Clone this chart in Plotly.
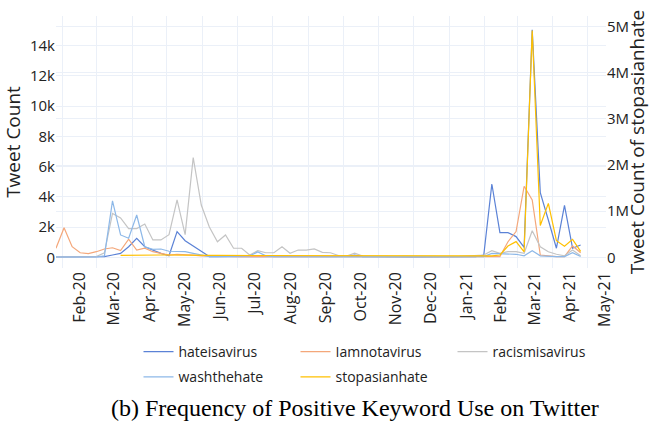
import plotly.graph_objects as go
import pandas as pd

weeks = pd.date_range("2020-01-26", periods=66, freq="7D")

hateisavirus = [20, 20, 20, 20, 20, 30, 50, 150, 260, 700,
                1260, 700, 480, 260, 100, 1700, 1100, 750, 400, 50,
                40, 40, 30, 40, 50, 60, 40, 30, 40, 40,
                30, 30, 40, 30, 30, 40, 60, 150, 50, 40,
                30, 30, 30, 30, 30, 30, 30, 30, 30, 30,
                30, 40, 50,
                150, 4850, 1630, 1630, 1370, 660, 15050, 4280, 2470, 600, 3440, 600, 810]

iamnotavirus = [600, 1950, 700, 300, 250, 370, 550, 630, 440, 1200,
                480, 600, 370, 260, 150, 200, 200, 150, 100, 80,
                60, 50, 60, 50, 40, 50, 60, 50, 40, 50,
                50, 40, 40, 50, 60, 50, 40, 40, 40, 40,
                40, 40, 40, 40, 40, 40, 40, 40, 40, 40,
                40, 40, 50,
                50, 50, 50, 1030, 1700, 4700, 3800, 150, 100, 50, 50, 750, 300]

racismisavirus = [20, 20, 30, 30, 50, 50, 300, 2900, 2600, 1900,
                  1900, 2200, 1150, 1150, 1500, 3800, 1500, 6600, 3460, 2000,
                  1030, 1480, 600, 600, 150, 440, 300, 300, 700, 270,
                  480, 480, 550, 330, 300, 120, 80, 280, 80,
                  60, 50, 50, 50, 60, 50, 50, 50, 60, 50, 50, 60, 80, 100,
                  150, 440, 260, 370, 370, 270, 1760, 700, 370, 200, 100, 480, 100]

washthehate = [20, 20, 20, 20, 20, 20, 100, 3730, 1480, 1260,
               2800, 700, 530, 550, 400, 400, 370, 260, 150, 50,
               50, 50, 50, 50, 100, 350, 100, 50, 40, 40,
               40, 40, 40, 30, 30, 30, 30, 30, 30, 30,
               30, 30, 30, 30, 30, 30, 30, 30, 30, 30,
               30, 30, 40,
               50, 260, 250, 200, 200, 100, 440, 100, 50, 50, 50, 300, 50]

stopasianhate = [None, None, None, None, None, None, None, None,
                 40000, 45000, 45000, 50000, 50000, 50000, 50000, 45000, 45000, 45000,
                 40000, 40000, 40000, 40000, 40000, 40000, 40000, 40000, 40000, 40000,
                 40000, 40000, 40000, 40000, 40000, 40000, 40000, 40000, 40000, 40000,
                 40000, 40000, 40000, 40000, 40000, 40000, 40000, 40000, 40000, 40000,
                 40000, 40000, 40000, 35000, 35000,
                 30000, 30000, 50000, 245000, 340000, 120000, 4920000, 690000,
                 1170000, 360000, 240000, 390000, 130000]

series = [
    ("hateisavirus", hateisavirus, "#5B82D6", "y", "legend"),
    ("Iamnotavirus", iamnotavirus, "#F4A77A", "y", "legend"),
    ("racismisavirus", racismisavirus, "#C4C4C4", "y", "legend"),
    ("washthehate", washthehate, "#8DB8E8", "y", "legend2"),
    ("stopasianhate", stopasianhate, "#FFC000", "y2", "legend2"),
]

fig = go.Figure()
for name, vals, color, yax, leg in series:
    fig.add_trace(go.Scatter(x=weeks, y=vals, name=name, mode="lines",
                             line=dict(color=color, width=1.2),
                             yaxis=yax, legend=leg, connectgaps=False))

grid = "#EBF0F8"
xtickfont = dict(family="Open Sans", size=16, color="#222222")
ytickfont = dict(family="Open Sans", size=15, color="#222222")
titlefont = dict(family="Open Sans", size=19, color="#222222")
legfont = dict(family="Open Sans", size=14, color="#222222")

fig.update_layout(
    template="plotly_white",
    width=650, height=426,
    margin=dict(l=56, r=44, t=16, b=158, autoexpand=False),
    plot_bgcolor="white", paper_bgcolor="white",
    showlegend=True,
    xaxis=dict(type="date", range=["2020-01-26", "2021-05-17"],
               dtick="M1", tick0="2020-01-01", tickformat="%b-%y",
               ticklabelmode="period", tickangle=-90, tickfont=xtickfont,
               showgrid=True, gridcolor=grid, zeroline=False, showline=False,
               automargin=False),
    yaxis=dict(range=[-708, 15965], dtick=2000, tickformat="~s",
               tickfont=ytickfont, showgrid=True, gridcolor=grid,
               zeroline=False, showline=False, automargin=False,
               title=dict(text="Tweet Count", font=titlefont, standoff=12)),
    yaxis2=dict(overlaying="y", side="right", range=[-232000, 5234000],
                dtick=1000000, tickformat="~s", tickfont=ytickfont,
                showgrid=True, gridcolor=grid, zeroline=False, showline=False,
                automargin=False,
                title=dict(text="Tweet Count of stopasianhate", font=titlefont,
                           standoff=22)),
    legend=dict(orientation="h", x=0.15, xanchor="left", y=-0.27, yanchor="top",
                font=legfont, entrywidth=112, bgcolor="rgba(0,0,0,0)"),
    legend2=dict(orientation="h", x=0.15, xanchor="left", y=-0.37, yanchor="top",
                 font=legfont, entrywidth=112, bgcolor="rgba(0,0,0,0)"),
    annotations=[dict(text="(b) Frequency of Positive Keyword Use on Twitter",
                      xref="paper", yref="paper", x=0.544, y=-0.556,
                      xanchor="center", yanchor="middle", showarrow=False,
                      font=dict(family="Liberation Serif", size=24, color="black"))],
)

fig.write_html("out.html", config={"displayModeBar": False},
               post_script="document.body.style.margin='0';document.body.style.overflow='hidden';")
